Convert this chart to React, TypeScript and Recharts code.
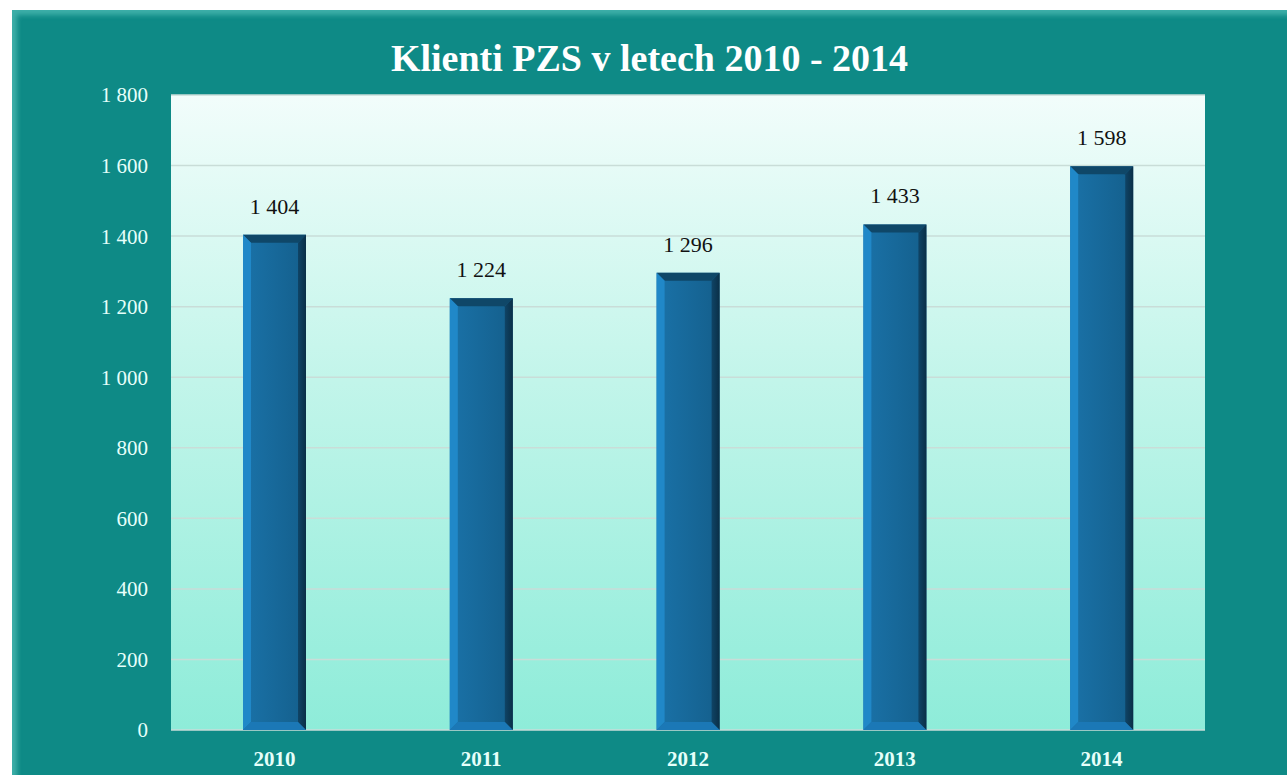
import { BarChart, Bar, CartesianGrid, XAxis, YAxis, LabelList } from "recharts";

const years = ["2010", "2011", "2012", "2013", "2014"];
const clients = [1404, 1224, 1296, 1433, 1598];
const yTicks = [0, 200, 400, 600, 800, 1000, 1200, 1400, 1600, 1800];

const data = years.map((year, i) => ({ year, clients: clients[i] }));

const serif = "'Liberation Serif', 'DejaVu Serif', serif";

// "1404" -> "1 404"
function fmt(v: number | string) {
  return String(v).replace(/\B(?=(\d{3})+(?!\d))/g, " ");
}

function BevelBar(props: any) {
  const { x, y, width, height } = props;
  if (!height || height <= 0) return null;
  const b = 8;
  return (
    <g>
      <rect x={x} y={y} width={width} height={height} fill="url(#barFace)" />
      <polygon
        points={`${x},${y} ${x + width},${y} ${x + width - b},${y + b} ${x + b},${y + b}`}
        fill="#0f4768"
      />
      <polygon
        points={`${x},${y} ${x + b},${y + b} ${x + b},${y + height - b} ${x},${y + height}`}
        fill="#2088c8"
      />
      <polygon
        points={`${x + width},${y} ${x + width},${y + height} ${x + width - b},${y + height - b} ${x + width - b},${y + b}`}
        fill="url(#barRight)"
      />
      <polygon
        points={`${x},${y + height} ${x + width},${y + height} ${x + width - b},${y + height - b} ${x + b},${y + height - b}`}
        fill="#1b78b6"
      />
    </g>
  );
}

export default function App() {
  return (
    <div
      style={{
        position: "fixed",
        left: 12,
        top: 10,
        width: 1275,
        height: 765,
        background: "#0e8a86",
        boxShadow: "inset 7px 7px 5px -2px rgba(120,220,210,0.45)",
        fontFamily: serif,
      }}
    >
      <div
        style={{
          position: "absolute",
          top: 27,
          width: "100%",
          textAlign: "center",
          color: "#ffffff",
          fontSize: 38,
          fontWeight: "bold",
          lineHeight: "42px",
        }}
      >
        Klienti PZS v letech 2010 - 2014
      </div>
      <BarChart
        width={1275}
        height={765}
        data={data}
        margin={{ top: 85, right: 82, bottom: 0, left: 0 }}
        barCategoryGap={72}
      >
        <defs>
          <linearGradient id="plotGrad" x1="0" y1="0" x2="0" y2="1">
            <stop offset="0%" stopColor="#f2fdfb" />
            <stop offset="45%" stopColor="#c2f5ea" />
            <stop offset="100%" stopColor="#8eecd9" />
          </linearGradient>
          <linearGradient id="barFace" x1="0" y1="0" x2="1" y2="0">
            <stop offset="0%" stopColor="#1a72a8" />
            <stop offset="100%" stopColor="#145f8c" />
          </linearGradient>
          <linearGradient id="barRight" x1="0" y1="0" x2="1" y2="0">
            <stop offset="0%" stopColor="#0f4466" />
            <stop offset="100%" stopColor="#0a2f47" />
          </linearGradient>
        </defs>
        <CartesianGrid
          vertical={false}
          stroke="#c9ddd8"
          strokeWidth={1.5}
          fill="url(#plotGrad)"
          fillOpacity={1}
        />
        <XAxis
          dataKey="year"
          axisLine={false}
          tickLine={false}
          tickSize={0}
          tickMargin={21}
          height={45}
          tick={{ fill: "#e6fffa", fontSize: 21, fontWeight: "bold", fontFamily: serif }}
        />
        <YAxis
          domain={[0, 1800]}
          ticks={yTicks}
          interval={0}
          width={159}
          axisLine={false}
          tickLine={false}
          tickSize={0}
          tickMargin={23}
          tickFormatter={fmt}
          tick={{ fill: "#e6fffa", fontSize: 21, fontFamily: serif }}
        />
        <Bar dataKey="clients" shape={<BevelBar />} isAnimationActive={false}>
          <LabelList
            dataKey="clients"
            position="top"
            offset={21}
            formatter={fmt}
            fill="#111111"
            fontSize={22}
            fontFamily={serif}
          />
        </Bar>
      </BarChart>
    </div>
  );
}
